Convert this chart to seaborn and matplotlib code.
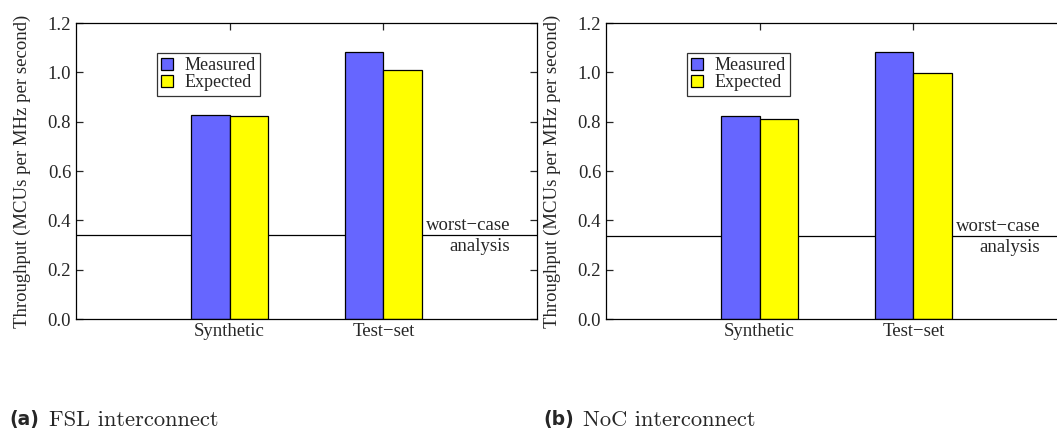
import matplotlib
matplotlib.use("Agg")
import matplotlib.pyplot as plt
from matplotlib.ticker import FormatStrFormatter
import pandas as pd
import seaborn as sns

# data
categories = ["Synthetic", "Test\u2212set"]
series = ["Measured", "Expected"]
fsl_measured = [0.827, 1.082]
fsl_expected = [0.821, 1.009]
noc_measured = [0.825, 1.081]
noc_expected = [0.812, 0.996]
fsl_worst_case = 0.340
noc_worst_case = 0.336
yticks = [0.0, 0.2, 0.4, 0.6, 0.8, 1.0, 1.2]
captions = [("(a)", "FSL interconnect"), ("(b)", "NoC interconnect")]

colors = {"Measured": "#6666ff", "Expected": "#ffff00"}

sns.set_style("ticks")
plt.rcParams['font.family'] = ['Liberation Serif', 'DejaVu Serif']
plt.rcParams['axes.linewidth'] = 0.9


def make_df(measured, expected):
    rows = []
    for c, m, e in zip(categories, measured, expected):
        rows.append({"cat": c, "series": "Measured", "value": m})
        rows.append({"cat": c, "series": "Expected", "value": e})
    return pd.DataFrame(rows)


fig = plt.figure(figsize=(10.57, 4.32), dpi=100)
ax1 = fig.add_axes([76 / 1057, 113 / 432, 461 / 1057, 296 / 432])
ax2 = fig.add_axes([606 / 1057, 113 / 432, 461 / 1057, 296 / 432])

panels = [
    (ax1, make_df(fsl_measured, fsl_expected), fsl_worst_case),
    (ax2, make_df(noc_measured, noc_expected), noc_worst_case),
]

for ax, df, wc in panels:
    sns.barplot(data=df, x="cat", y="value", hue="series",
                order=categories, hue_order=series, palette=colors,
                width=0.5, gap=0, edgecolor="black", linewidth=0.9,
                saturation=1, errorbar=None, ax=ax, zorder=2)
    ax.axhline(wc, color="black", linewidth=0.9, zorder=1)
    ax.text(0.942, wc + 0.006, "worst\u2212case", transform=ax.get_yaxis_transform(),
            ha="right", va="bottom", fontsize=13.5)
    ax.text(0.942, wc - 0.01, "analysis", transform=ax.get_yaxis_transform(),
            ha="right", va="top", fontsize=13.5)
    ax.set_xlim(-1, 2)
    ax.set_ylim(0, 1.2)
    ax.set_yticks(yticks)
    ax.yaxis.set_major_formatter(FormatStrFormatter('%.1f'))
    ax.set_xlabel("")
    ax.set_ylabel("Throughput (MCUs per MHz per second)", fontsize=13.5, labelpad=12)
    ax.tick_params(direction="in", top=True, right=True, length=5, width=0.9,
                   labelsize=13.5)
    ax.tick_params(axis="x", pad=3)
    for s in ax.spines.values():
        s.set_color("black")
        s.set_visible(True)
    leg = ax.legend(loc="upper left", bbox_to_anchor=(0.175, 0.899), fontsize=13,
                    frameon=True, fancybox=False, edgecolor="black",
                    handlelength=0.65, handleheight=0.7, handletextpad=0.65,
                    labelspacing=0.0, borderpad=0.25, borderaxespad=0)
    leg.get_frame().set_linewidth(0.9)

for (lab, txt), x0 in zip(captions, [9, 543]):
    fig.text(x0 / 1057, 1 - 420 / 432, lab, family="DejaVu Sans", weight="bold",
             fontsize=13.5, va="center", ha="left")
    fig.text((x0 + 40) / 1057, 1 - 420 / 432, txt, family="cmr10",
             fontsize=16.2, va="center", ha="left")

fig.savefig("out.png", dpi=100)
